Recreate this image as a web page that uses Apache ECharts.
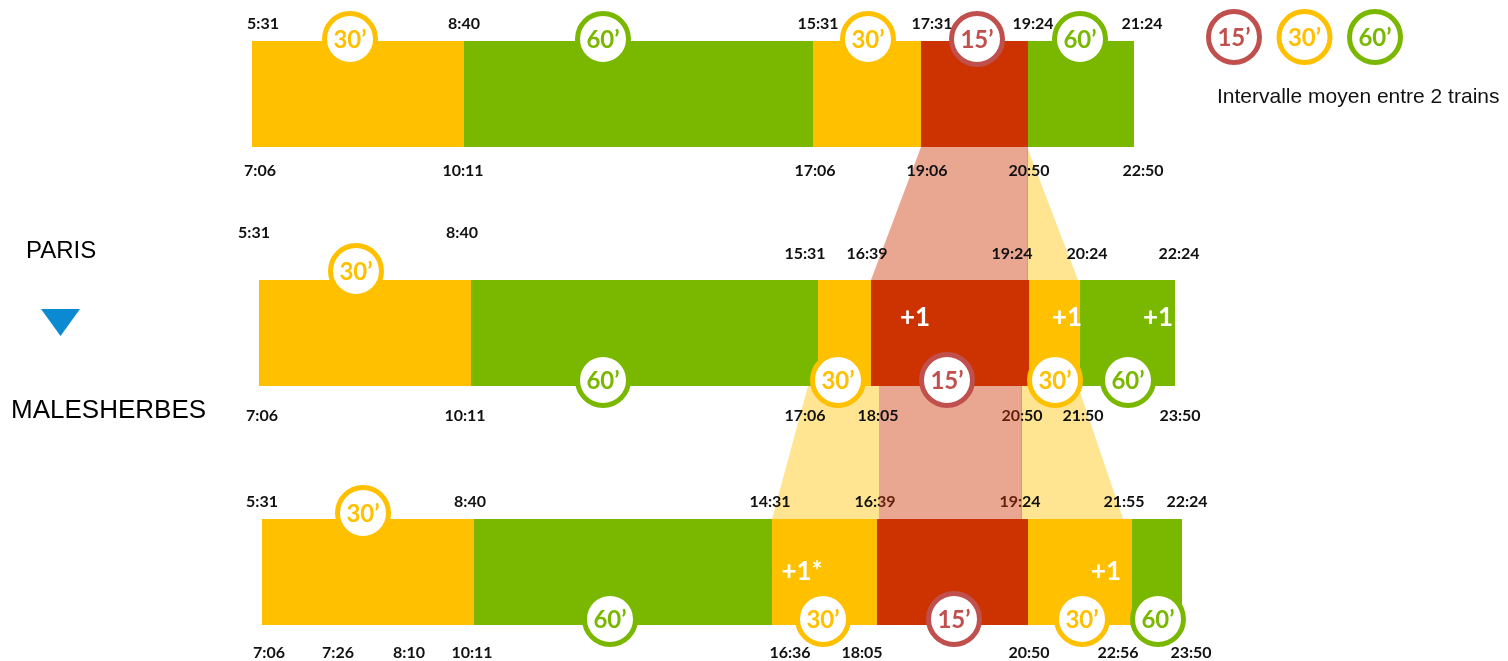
<!DOCTYPE html>
<html>
<head>
<meta charset="utf-8">
<script src="https://cdn.jsdelivr.net/npm/echarts/dist/echarts.min.js"></script>
<style>html,body{margin:0;padding:0;background:#fff;}#c{width:1508px;height:661px;}</style>
</head>
<body>
<div id="c"></div>
<script>
// ---- DATA (schematic position units along the day axis) ----
const row1Bounds = [0.2, 21.4, 56.3, 67.1, 77.8, 88.4];
const row1Freq   = [30, 60, 30, 15, 60];
const row2Bounds = [0.9, 22.1, 56.8, 62.1, 77.9, 83.0, 92.5];
const row2Freq   = [30, 60, 30, 15, 30, 60];
const row3Bounds = [1.2, 22.4, 52.2, 62.7, 77.8, 88.2, 93.2];
const row3Freq   = [30, 60, 30, 15, 30, 60];

const row1Top = [['5:31',1.3],['8:40',21.4],['15:31',56.8],['17:31',68.2],['19:24',78.3],['21:24',89.2]];
const row1Bot = [['7:06',1.0],['10:11',21.3],['17:06',56.5],['19:06',67.7],['20:50',77.9],['22:50',89.3]];
const row2Top = [['5:31',0.4],['8:40',21.2],['15:31',55.5],['16:39',61.7],['19:24',76.2],['20:24',83.7],['22:24',92.9]];
const row2Bot = [['7:06',1.2],['10:11',21.5],['17:06',55.5],['18:05',62.8],['20:50',77.2],['21:50',83.3],['23:50',93.0]];
const row3Top = [['5:31',1.2],['8:40',22.0],['14:31',52.0],['16:39',62.5],['19:24',77.0],['21:55',87.4],['22:24',93.7]];
const row3Bot = [['7:06',1.9],['7:26',8.8],['8:10',15.9],['10:11',22.2],['16:36',54.0],['18:05',61.2],['20:50',77.9],['22:56',86.8],['23:50',94.1]];

const row1Badges = [[30,10.0,'t'],[60,35.3,'t'],[30,61.8,'t'],[15,72.7,'t'],[60,83.0,'t']];
const row2Badges = [[30,10.6,'t'],[60,35.3,'b'],[30,58.8,'b'],[15,69.7,'b'],[30,80.5,'b'],[60,87.8,'b']];
const row3Badges = [[30,11.3,'t'],[60,36.0,'b'],[30,57.3,'b'],[15,70.4,'b'],[30,83.2,'b'],[60,90.8,'b']];

const extraTrains = [[1,66.5,'+1'],[1,81.7,'+1'],[1,90.8,'+1'],[2,55.2,'+1*'],[2,85.6,'+1']];

// connectors: [fromRow, topX0, topX1, bottomX0, bottomX1, interval]
const connectors = [
  [0, 67.1, 77.8, 62.1, 77.8, 15],
  [0, 77.7, 77.7, 77.7, 82.8, 30],
  [1, 55.8, 62.9, 52.2, 62.9, 30],
  [1, 62.9, 77.2, 62.9, 77.2, 15],
  [1, 77.1, 82.8, 77.1, 87.3, 30]
];
const underBand = [[1,'b','20:50'],[2,'t','16:39'],[2,'t','19:24']];

const legendItems = [15, 30, 60];
const legendText = 'Intervalle moyen entre 2 trains';

// ---- STYLE ----
const BAR = {15:'#CC3300', 30:'#FFC000', 60:'#7AB800'};
const RING = {15:'#C0504D', 30:'#FFC000', 60:'#7AB800'};
const BAR_H = 106/239;
const LABEL_FONT = 'bold 16px Lato';
const BADGE_FONT = 'bold 24px Lato';
const topOff = [-17, -26, -17], raisedOff = -47, botOff = [24, 29.5, 27.5];
const badgeTopOff = [-2, -9, -6], badgeBotOff = -6;
const plusOff = [0, -15, 0];

const bounds = [row1Bounds, row2Bounds, row3Bounds];
const freqs = [row1Freq, row2Freq, row3Freq];
const tops = [row1Top, row2Top, row3Top];
const bots = [row1Bot, row2Bot, row3Bot];
const badgeRows = [row1Badges, row2Badges, row3Badges];

const segData = [];
bounds.forEach((b, r) => freqs[r].forEach((f, i) => segData.push([b[i], r, b[i+1], f])));

const labelsAll = [];
tops.forEach((arr, r) => arr.forEach(l => labelsAll.push({row:r, side:'t', text:l[0], x:l[1]})));
bots.forEach((arr, r) => arr.forEach(l => labelsAll.push({row:r, side:'b', text:l[0], x:l[1]})));
const isUnder = l => underBand.some(u => u[0]===l.row && u[1]===l.side && u[2]===l.text);
const labelsOver = labelsAll.filter(l => !isUnder(l));
const labelsUnder = labelsAll.filter(isUnder);

const badgeData = [];
badgeRows.forEach((arr, r) => arr.forEach(b => badgeData.push({row:r, f:b[0], x:b[1], side:b[2]})));

function labelSeries(list, z) {
  return {
    type:'custom', z:z, silent:true,
    data: list.map(l => [l.x, l.row]),
    renderItem: function(params, api) {
      const l = list[params.dataIndex];
      const p = api.coord([api.value(0), api.value(1)]);
      const half = api.size([0, BAR_H])[1] / 2;
      let y;
      if (l.side === 't') y = p[1] - half + ((l.row === 1 && l.x < 30) ? raisedOff : topOff[l.row]);
      else y = p[1] + half + botOff[l.row];
      return {type:'text', x:p[0], y:y, style:{text:l.text, font:LABEL_FONT, fill:'#111', align:'center', verticalAlign:'middle'}};
    }
  };
}

function connectorSeries(list, z) {
  return {
    type:'custom', z:z, silent:true, data:list.map(c => [c[1], c[0], c[2], c[3], c[4], c[5]]),
    renderItem: function(params, api) {
      const r = api.value(1);
      const h = api.size([0, BAR_H])[1];
      const a = api.coord([api.value(0), r]), b = api.coord([api.value(2), r]);
      const c = api.coord([api.value(4), r+1]), d = api.coord([api.value(3), r+1]);
      return {type:'polygon', shape:{points:[[a[0], a[1]+h/2],[b[0], b[1]+h/2],[c[0], c[1]-h/2],[d[0], d[1]-h/2]]},
              style:{fill:BAR[api.value(5)], opacity:0.43}};
    }
  };
}

function badgeShape(cx, cy, f) {
  return [
    {type:'circle', shape:{cx:cx, cy:cy, r:25.5}, style:{fill:'#fff', stroke:RING[f], lineWidth:5}},
    {type:'text', x:cx, y:cy+1, style:{text:f + '\u2019', font:BADGE_FONT, fill:RING[f], align:'center', verticalAlign:'middle'}}
  ];
}

const chart = echarts.init(document.getElementById('c'), null, {renderer:'canvas'});
const graphics = [
  {type:'text', left:26, top:239, style:{text:'PARIS', font:'24px "Liberation Sans"', fill:'#000'}},
  {type:'polygon', shape:{points:[[41,309],[80,309],[60.5,336]]}, style:{fill:'#0B8AD1'}},
  {type:'text', left:11, top:398, style:{text:'MALESHERBES', font:'26px "Liberation Sans"', fill:'#000'}},
  {type:'text', left:1217, top:87, style:{text:legendText, font:'21px "Liberation Sans"', fill:'#111'}}
];
legendItems.forEach((f, i) => {
  graphics.push({type:'group', children: badgeShape(1234 + i*70.5, 37, f)});
});

chart.setOption({
  animation:false,
  grid:{left:250, top:94, width:950, height:478, show:false},
  xAxis:{type:'value', min:0, max:95, show:false},
  yAxis:{type:'value', min:0, max:2, inverse:true, show:false},
  graphic: graphics,
  series:[
    {
      type:'custom', z:2, silent:true, data:segData,
      renderItem: function(params, api) {
        const p0 = api.coord([api.value(0), api.value(1)]);
        const p1 = api.coord([api.value(2), api.value(1)]);
        const h = api.size([0, BAR_H])[1];
        return {type:'rect', shape:{x:p0[0], y:p0[1]-h/2, width:p1[0]-p0[0], height:h}, style:{fill:BAR[api.value(3)]}};
      }
    },
    connectorSeries(connectors.filter(c => c[5] !== 15), 3),
    labelSeries(labelsUnder, 4),
    connectorSeries(connectors.filter(c => c[5] === 15), 5),
    labelSeries(labelsOver, 6),
    {
      type:'custom', z:7, silent:true, data:badgeData.map(b => [b.x, b.row]),
      renderItem: function(params, api) {
        const b = badgeData[params.dataIndex];
        const p = api.coord([api.value(0), api.value(1)]);
        const half = api.size([0, BAR_H])[1] / 2;
        const cy = b.side === 't' ? p[1] - half + badgeTopOff[b.row] : p[1] + half + badgeBotOff;
        return {type:'group', children: badgeShape(p[0], cy, b.f)};
      }
    },
    {
      type:'custom', z:7, silent:true, data:extraTrains.map(e => [e[1], e[0]]),
      renderItem: function(params, api) {
        const e = extraTrains[params.dataIndex];
        const p = api.coord([api.value(0), api.value(1)]);
        return {type:'text', x:p[0], y:p[1] + plusOff[e[0]], style:{text:e[2], font:'bold 26px Lato', fill:'#fff', align:'center', verticalAlign:'middle'}};
      }
    }
  ]
});
</script>
</body>
</html>
